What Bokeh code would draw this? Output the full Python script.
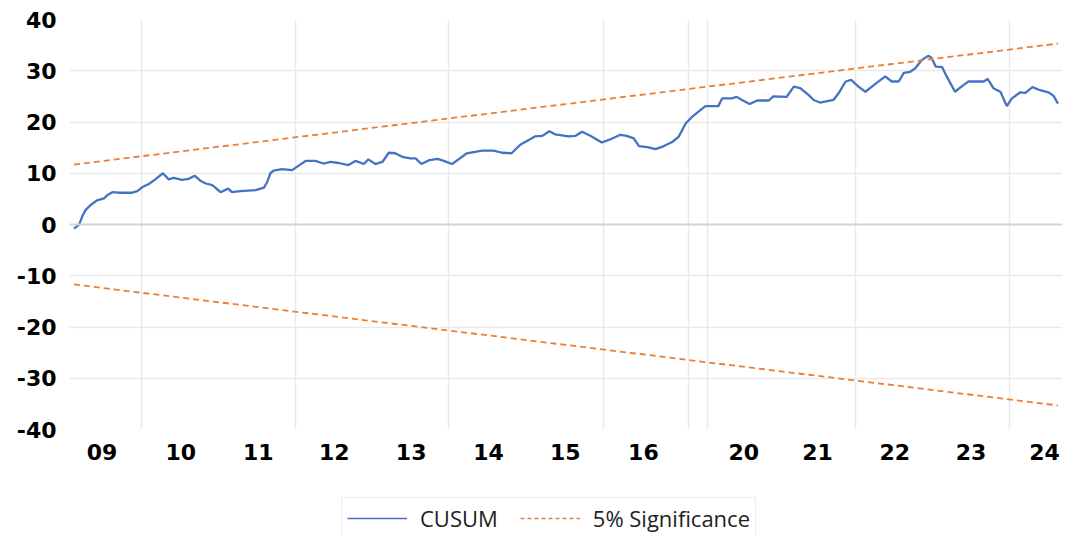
from bokeh.plotting import figure
from bokeh.layouts import column
from bokeh.models import FixedTicker, Legend, LegendItem, Span
from bokeh.embed import file_html
from bokeh.resources import INLINE

cusum_t = [0.7, 1.5, 2.0, 2.5, 3.3, 4.3, 5.4, 5.9, 6.7, 7.7, 9.8, 10.6, 11.4, 12.4, 13.4, 14.6,
           15.5, 16.3, 17.6, 18.6, 19.6, 20.5, 21.3, 22.3, 22.8, 23.6, 24.8, 25.4, 26.7,
           29.1, 30.4, 30.9, 31.4, 31.9, 33.2, 34.8, 35.6, 36.9, 38.4, 39.7, 40.8, 42.1,
           43.6, 44.7, 46.0, 46.7, 47.8, 48.9, 49.9, 50.9, 52.0, 53.3,
           54.1, 55.0, 56.1, 57.5, 58.5, 59.8, 60.8, 62.1, 64.5, 66.3, 67.6, 69.1, 70.5,
           71.8, 72.8, 73.9, 75.0, 75.9, 78.0, 79.1, 80.1,
           81.4, 83.2, 84.3, 86.1, 87.1, 88.2, 89.0, 90.3, 91.6, 92.9, 94.2, 95.2, 96.3,
           97.3, 98.6, 99.4, 101.4, 102.0, 103.5, 104.3, 105.1, 106.3,
           107.5, 109.3, 110.0, 112.1, 113.2, 114.2, 115.5, 116.3, 117.3, 119.4, 120.2,
           121.3, 122.2, 123.3, 124.4, 125.7, 127.5, 128.5, 129.6, 130.4, 131.4, 132.2,
           133.2, 134.2, 134.7, 135.4, 136.4, 137.1, 138.4, 139.7, 140.5, 142.9, 143.5,
           144.4, 145.5, 146.5, 147.3, 148.6, 149.4, 150.5, 151.7, 153.0, 153.8, 154.5]
cusum_v = [-0.8, 0.0, 1.6, 2.8, 3.8, 4.7, 5.1, 5.7, 6.3, 6.2, 6.2, 6.5, 7.3, 7.9, 8.8, 10.0,
           8.8, 9.1, 8.7, 8.9, 9.5, 8.5, 8.0, 7.7, 7.2, 6.3, 7.0, 6.3, 6.5,
           6.7, 7.2, 8.3, 10.0, 10.5, 10.8, 10.6, 11.3, 12.4, 12.4, 11.9, 12.2, 12.0,
           11.6, 12.4, 11.8, 12.7, 11.8, 12.2, 14.0, 13.9, 13.2, 12.9,
           12.9, 11.8, 12.5, 12.8, 12.4, 11.8, 12.7, 13.9, 14.4, 14.4, 14.0, 13.9, 15.6,
           16.5, 17.2, 17.3, 18.2, 17.6, 17.2, 17.3, 18.1,
           17.3, 16.0, 16.5, 17.5, 17.3, 16.8, 15.3, 15.1, 14.7, 15.3, 16.1, 17.1, 19.7,
           21.0, 22.3, 23.1, 23.1, 24.6, 24.6, 24.9, 24.3, 23.5,
           24.2, 24.2, 25.0, 24.9, 26.9, 26.6, 25.3, 24.3, 23.8, 24.3, 25.6,
           27.9, 28.2, 26.9, 25.9, 27.2, 28.9, 27.9, 27.9, 29.6, 29.8, 30.5,
           32.1, 32.9, 32.6, 30.8, 30.7, 28.9, 25.9, 27.2, 27.9, 27.9, 28.4,
           26.6, 25.9, 23.1, 24.6, 25.8, 25.7, 26.8, 26.2, 25.8, 25.1, 23.6]

# 5% significance bounds (straight lines) read at both ends
sig_t = [0.7, 154.5]
sig_upper = [11.7, 35.3]
sig_lower = [-11.7, -35.3]

# x-axis year labels and their positions (observation index)
year_labels = ["09", "10", "11", "12", "13", "14", "15", "16", "20", "21", "22", "23", "24"]
year_pos = [5.1, 17.4, 29.5, 41.4, 53.4, 65.5, 77.5, 89.7, 105.4, 116.9, 129.0, 140.9, 152.4]
vgrid_pos = [11.25, 35.25, 59.3, 83.5, 96.7, 99.7, 122.8, 146.9]

y_ticks = [40, 30, 20, 10, 0, -10, -20, -30, -40]
y_labels = ["40", "30", "20", "10", "0", "-10", "-20", "-30", "-40"]

BLUE = "#4472C4"
ORANGE = "#ED7D31"

p = figure(width=1077, height=496, output_backend="svg", toolbar_location=None,
           x_range=(0, 155.2), y_range=(-40, 40),
           min_border_left=69, min_border_right=15, min_border_top=19, min_border_bottom=67)
p.outline_line_color = None
p.background_fill_color = "white"
p.border_fill_color = "white"

# grids
p.xgrid.ticker = FixedTicker(ticks=vgrid_pos)
p.xgrid.grid_line_color = "#e9e9e9"
p.xgrid.grid_line_width = 1.5
p.ygrid.ticker = FixedTicker(ticks=[-30, -20, -10, 10, 20, 30])
p.ygrid.grid_line_color = "#e9e9e9"
p.ygrid.grid_line_width = 1.5
p.add_layout(Span(location=0, dimension="width", line_color="#d4d4d4", line_width=2))

# axes
p.xaxis.ticker = FixedTicker(ticks=year_pos)
p.xaxis.major_label_overrides = {pos: lab for pos, lab in zip(year_pos, year_labels)}
p.yaxis.ticker = FixedTicker(ticks=y_ticks)
p.yaxis.major_label_overrides = {t: lab for t, lab in zip(y_ticks, y_labels)}
for ax in (p.xaxis[0], p.yaxis[0]):
    ax.axis_line_color = None
    ax.major_tick_line_color = None
    ax.minor_tick_line_color = None
    ax.major_tick_out = 0
    ax.major_tick_in = 0
    ax.major_label_text_font = "DejaVu Sans"
    ax.major_label_text_font_style = "bold"
    ax.major_label_text_font_size = "22px"
    ax.major_label_text_color = "black"
p.xaxis.major_label_standoff = 14
p.yaxis.major_label_standoff = 13

p.line(cusum_t, cusum_v, line_color=BLUE, line_width=2.3)
p.line(sig_t, sig_upper, line_color=ORANGE, line_width=1.8, line_dash="6 4")
p.line(sig_t, sig_lower, line_color=ORANGE, line_width=1.8, line_dash="6 4")

# legend strip below the chart (same frame alignment as the chart)
pl = figure(width=1077, height=39, output_backend="svg", toolbar_location=None,
            x_axis_location=None, y_axis_location=None,
            x_range=(0, 155.2), y_range=(100, 101),
            min_border_left=69, min_border_right=15, min_border_top=0, min_border_bottom=0)
pl.outline_line_color = None
pl.xgrid.visible = False
pl.ygrid.visible = False
lg_c = pl.line(cusum_t, cusum_v, line_color=BLUE, line_width=1.5)
lg_s = pl.line(sig_t, sig_upper, line_color=ORANGE, line_width=1.5, line_dash="4 3")
legend = Legend(items=[LegendItem(label="CUSUM", renderers=[lg_c]),
                       LegendItem(label="5% Significance", renderers=[lg_s])],
                orientation="horizontal", location=(272, -4),
                label_text_font="Open Sans", label_text_font_size="22px",
                label_text_color="#222222", glyph_width=60, label_standoff=13,
                spacing=22, padding=5, margin=0,
                border_line_color="#d9d9d9", border_line_width=1.5,
                background_fill_alpha=1.0)
pl.add_layout(legend, "center")

layout = column(p, pl, spacing=0)
open("out.html", "w").write(file_html(layout, INLINE))
